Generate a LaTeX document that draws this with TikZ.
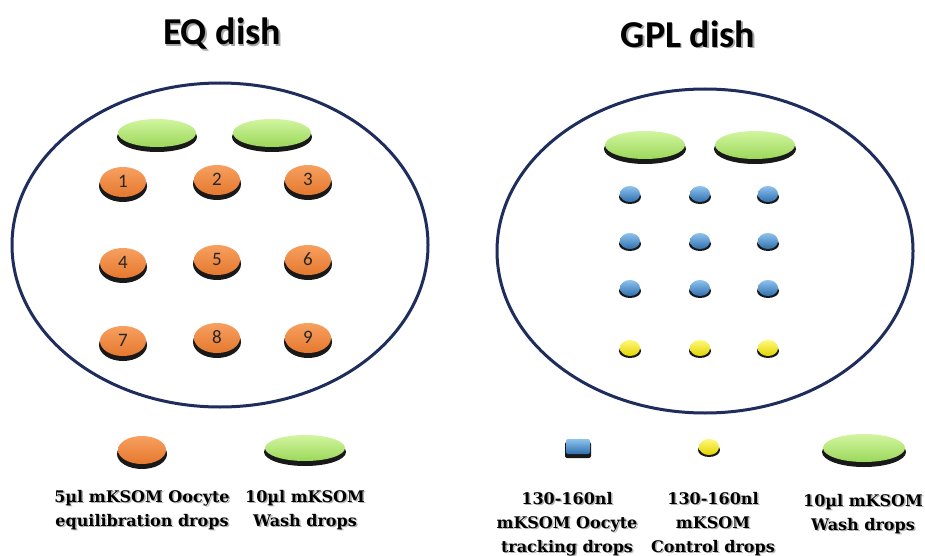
\documentclass[tikz,border=0pt]{standalone}
\usepackage{fontspec}
\setmainfont{DejaVu Serif}
\newfontfamily\titlefont{Carlito}
\begin{document}
\begin{tikzpicture}[x=1pt,y=-1pt]
\definecolor{dishc}{HTML}{1E2D5C}
\definecolor{greenT}{HTML}{D2F5A0}
\definecolor{greenB}{HTML}{9BD85A}
\definecolor{orT}{HTML}{F7A060}
\definecolor{orB}{HTML}{E5782E}
\definecolor{blT}{HTML}{8FC3EE}
\definecolor{blB}{HTML}{2F6FAE}
\definecolor{yeT}{HTML}{FFF87A}
\definecolor{yeB}{HTML}{E2D400}
\tikzset{
  dish/.style={draw=dishc,line width=3pt},
  title/.style={font=\titlefont\bfseries\fontsize{38}{44}\selectfont,inner sep=0pt},
  titleshadow/.style={title,text=black!35},
  lbl/.style={font=\bfseries\fontsize{16}{24}\selectfont,align=center,inner sep=0pt},
  lblshadow/.style={lbl,text=black!30},
  num/.style={font=\titlefont\fontsize{19}{19}\selectfont,text=black!85,inner sep=0pt},
  pics/wdrop/.style n args={2}{code={%
    \fill[black!90] (0,4) ellipse [x radius=#1,y radius=#2];
    \shade[top color=greenT,bottom color=greenB] (0,0) ellipse [x radius=#1-1,y radius=#2-1];}},
  pics/odrop/.style n args={2}{code={%
    \fill[black!90] (0,4) ellipse [x radius=#1,y radius=#2];
    \shade[top color=orT,bottom color=orB] (0,0) ellipse [x radius=#1-1,y radius=#2-1];}},
  pics/bdrop/.style={code={%
    \fill[black!90] (0,3) ellipse [x radius=11,y radius=7];
    \shade[top color=blT,bottom color=blB] (0,0) ellipse [x radius=10,y radius=8];}},
  pics/ydrop/.style={code={%
    \fill[black!90] (0,3) ellipse [x radius=11,y radius=7];
    \shade[top color=yeT,bottom color=yeB] (0,0) ellipse [x radius=10,y radius=8];}},
}
\useasboundingbox (0,0) rectangle (925,556);
\fill[white] (0,0) rectangle (925,556);

% titles
\node[titleshadow] (t1s) at (223.5,35.5) {EQ dish};
\node[title] (t1) at (222,34) {EQ dish};
\node[titleshadow] (t2s) at (689.5,35.5) {GPL dish};
\node[title] (t2) at (688,34) {GPL dish};

% dishes
\draw[dish] (220,245) ellipse [x radius=208,y radius=162];
\draw[dish] (705,251) ellipse [x radius=208,y radius=162];

% EQ dish content
\pic at (157,133) {wdrop={40}{15}};
\pic at (272,133) {wdrop={40}{15}};
\foreach \n/\x/\y in {1/123/182,2/217/180,3/308/180,4/123/263,5/217/260,6/308/260,7/123/341,8/217/338,9/308/338}{
  \pic at (\x,\y) {odrop={24}{16}};
  \node[num] (n\n) at (\x,\y-1) {\n};
}

% GPL dish content
\pic at (645,145) {wdrop={41}{15}};
\pic at (755,145) {wdrop={41}{15}};
\foreach \x in {630,700,768}{
  \foreach \y in {194,241,288}{
    \pic at (\x,\y) {bdrop};
  }
  \pic at (\x,348) {ydrop};
}

% legend EQ
\pic at (142,450) {odrop={25}{15}};
\pic at (305,448) {wdrop={41}{14}};
\node[lblshadow] (l1s) at (143.5,511.5) {5µl mKSOM Oocyte\\equilibration drops};
\node[lbl] (l1) at (142,510) {5µl mKSOM Oocyte\\equilibration drops};
\node[lblshadow] (l2s) at (306.5,511.5) {10µl mKSOM\\Wash drops};
\node[lbl] (l2) at (305,510) {10µl mKSOM\\Wash drops};

% legend GPL
\fill[black!90, rounded corners=2pt] (565,442) rectangle (591,458);
\shade[top color=blT,bottom color=blB, rounded corners=2pt] (566,439) rectangle (590,454);
\pic at (709,447) {ydrop};
\pic at (864,448) {wdrop={42}{15}};
\node[lblshadow] (l3s) at (568.5,525.5) {130-160nl\\mKSOM Oocyte\\tracking drops};
\node[lbl] (l3) at (567,524) {130-160nl\\mKSOM Oocyte\\tracking drops};
\node[lblshadow] (l4s) at (714.5,525.5) {130-160nl\\mKSOM\\Control drops};
\node[lbl] (l4) at (713,524) {130-160nl\\mKSOM\\Control drops};
\node[lblshadow] (l5s) at (864.5,515.5) {10µl mKSOM\\Wash drops};
\node[lbl] (l5) at (863,514) {10µl mKSOM\\Wash drops};
\end{tikzpicture}
\end{document}
